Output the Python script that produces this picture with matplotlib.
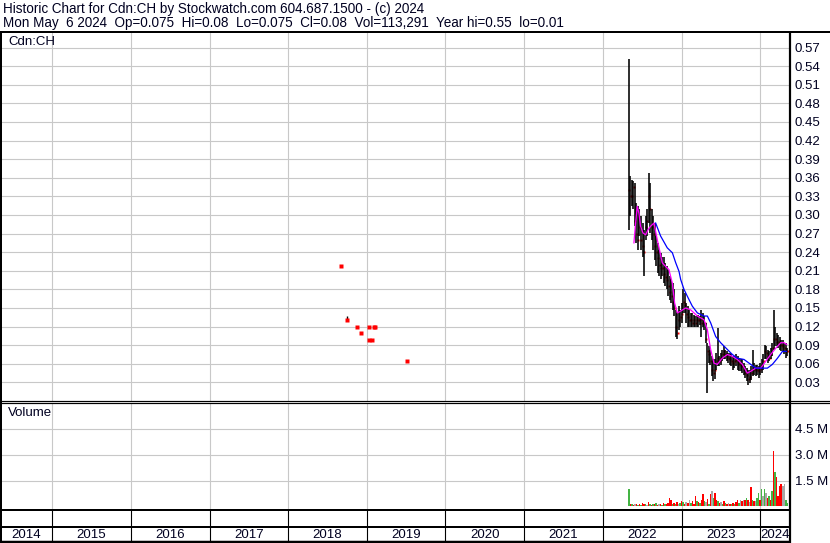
import matplotlib
matplotlib.use('Agg')
import matplotlib.pyplot as plt
import matplotlib.dates as mdates
import numpy as np
import pandas as pd

plt.rcParams['font.family'] = ['Liberation Sans', 'DejaVu Sans']

# ---------------- data ----------------
header_1 = "Historic Chart for Cdn:CH by Stockwatch.com 604.687.1500 - (c) 2024"
header_2 = "Mon May  6 2024  Op=0.075  Hi=0.08  Lo=0.075  Cl=0.08  Vol=113,291  Year hi=0.55  lo=0.01"
symbol = "Cdn:CH"

years = list(range(2014, 2025))
price_ticks = [0.03, 0.06, 0.09, 0.12, 0.15, 0.18, 0.21, 0.24, 0.27, 0.30,
               0.33, 0.36, 0.39, 0.42, 0.45, 0.48, 0.51, 0.54, 0.57]
vol_ticks = [1.5e6, 3.0e6, 4.5e6]
vol_tick_labels = ["1.5 M", "3.0 M", "4.5 M"]

# early sparse trades (2018-2019)
early_dates = ["2018-09-01", "2018-10-01", "2018-11-14", "2018-12-03", "2019-01-07",
               "2019-01-10", "2019-01-23", "2019-01-31", "2019-02-04", "2019-07-05"]
early_high = [0.217, 0.137, 0.120, 0.109, 0.098, 0.120, 0.098, 0.120, 0.120, 0.065]
early_low = [0.217, 0.130, 0.120, 0.109, 0.098, 0.120, 0.098, 0.120, 0.120, 0.065]
early_close = [0.217, 0.130, 0.120, 0.109, 0.098, 0.120, 0.098, 0.120, 0.120, 0.065]
early_vol = [0.03e6, 0.05e6, 0.03e6, 0.02e6, 0.04e6, 0.03e6, 0.02e6, 0.03e6, 0.02e6, 0.03e6]

# weekly bars from 2022-05-02
week_start = "2022-05-02"
high = [0.551, 0.363, 0.357, 0.354, 0.352, 0.320, 0.314, 0.309, 0.298, 0.287,
        0.276, 0.298, 0.309, 0.367, 0.352, 0.309, 0.298, 0.287, 0.266, 0.255,
        0.244, 0.239, 0.233, 0.233, 0.223, 0.217, 0.212, 0.201, 0.196, 0.190,
        0.180, 0.147, 0.142, 0.153, 0.147, 0.158, 0.180, 0.174, 0.158, 0.153,
        0.147, 0.142, 0.142, 0.139, 0.137, 0.137, 0.139, 0.137, 0.147, 0.142,
        0.137, 0.126, 0.094, 0.088, 0.083, 0.072, 0.067, 0.067, 0.077, 0.118,
        0.072, 0.077, 0.083, 0.088, 0.083, 0.080, 0.077, 0.077, 0.075, 0.072,
        0.072, 0.075, 0.072, 0.069, 0.067, 0.067, 0.061, 0.056, 0.053, 0.050,
        0.050, 0.056, 0.083, 0.061, 0.058, 0.058, 0.056, 0.061, 0.067, 0.075,
        0.091, 0.088, 0.083, 0.080, 0.085, 0.094, 0.147, 0.120, 0.110, 0.107,
        0.104, 0.099, 0.099, 0.094, 0.094, 0.085]
low = [0.276, 0.298, 0.314, 0.310, 0.282, 0.255, 0.244, 0.266, 0.244, 0.233,
       0.201, 0.260, 0.266, 0.287, 0.271, 0.260, 0.244, 0.228, 0.217, 0.206,
       0.201, 0.196, 0.201, 0.190, 0.185, 0.180, 0.169, 0.163, 0.158, 0.147,
       0.137, 0.104, 0.100, 0.115, 0.120, 0.126, 0.142, 0.142, 0.126, 0.120,
       0.120, 0.120, 0.120, 0.120, 0.120, 0.120, 0.120, 0.123, 0.104, 0.120,
       0.115, 0.094, 0.013, 0.061, 0.058, 0.040, 0.032, 0.035, 0.050, 0.056,
       0.056, 0.058, 0.064, 0.067, 0.067, 0.064, 0.061, 0.058, 0.056, 0.050,
       0.053, 0.056, 0.050, 0.048, 0.048, 0.045, 0.042, 0.037, 0.032, 0.026,
       0.029, 0.034, 0.040, 0.042, 0.040, 0.042, 0.037, 0.042, 0.045, 0.050,
       0.067, 0.067, 0.061, 0.064, 0.067, 0.072, 0.083, 0.088, 0.088, 0.085,
       0.083, 0.080, 0.080, 0.075, 0.069, 0.072]
close = [0.340, 0.330, 0.330, 0.345, 0.290, 0.270, 0.260, 0.280, 0.260, 0.250,
         0.240, 0.280, 0.290, 0.330, 0.310, 0.280, 0.270, 0.250, 0.240, 0.230,
         0.220, 0.215, 0.215, 0.205, 0.200, 0.195, 0.185, 0.175, 0.170, 0.160,
         0.150, 0.120, 0.110, 0.130, 0.135, 0.140, 0.160, 0.155, 0.140, 0.135,
         0.130, 0.130, 0.125, 0.130, 0.125, 0.130, 0.130, 0.130, 0.125, 0.130,
         0.125, 0.100, 0.080, 0.075, 0.065, 0.050, 0.045, 0.050, 0.065, 0.070,
         0.065, 0.070, 0.075, 0.080, 0.075, 0.072, 0.070, 0.068, 0.065, 0.062,
         0.064, 0.066, 0.063, 0.060, 0.058, 0.056, 0.050, 0.045, 0.042, 0.035,
         0.038, 0.045, 0.050, 0.052, 0.050, 0.050, 0.048, 0.052, 0.058, 0.065,
         0.080, 0.078, 0.072, 0.070, 0.075, 0.085, 0.100, 0.100, 0.095, 0.095,
         0.090, 0.090, 0.088, 0.085, 0.080, 0.080]
volume_m = [1.00, 0.15, 0.12, 0.10, 0.15, 0.12, 0.10, 0.15, 0.10, 0.20,
            0.12, 0.15, 0.10, 0.25, 0.15, 0.10, 0.12, 0.15, 0.20, 0.10,
            0.12, 0.15, 0.10, 0.20, 0.12, 0.15, 0.20, 0.50, 0.35, 0.15,
            0.20, 0.12, 0.25, 0.15, 0.20, 0.30, 0.28, 0.15, 0.25, 0.20,
            0.35, 0.20, 0.30, 0.15, 0.60, 0.30, 0.25, 0.20, 0.35, 0.70,
            0.30, 0.25, 0.45, 0.15, 0.70, 0.90, 0.50, 0.80, 0.40, 0.30,
            0.20, 0.25, 0.15, 0.30, 0.20, 0.15, 0.20, 0.15, 0.12, 0.20,
            0.15, 0.25, 0.40, 0.20, 0.40, 0.30, 0.40, 0.35, 0.50, 0.35,
            0.25, 1.12, 0.40, 0.30, 0.30, 0.50, 0.75, 0.40, 1.00, 0.60,
            1.00, 0.80, 0.50, 0.60, 0.40, 0.90, 3.20, 2.00, 1.70, 0.60,
            1.20, 1.30, 1.20, 1.30, 0.40, 0.20]
volume_kind = "grgrkrgrgr" "rgkrgrgrgr" "krgrgrrrrg" "rgrkgrgrkr" "kgrrrgrgrr" \
              "gkrgrkgrrg" "rkgrgrkrgr" "grrgkrkrgr" "krgrkggrgk" "gkrgrgrgrr" \
              "rrkkgg"

# moving averages (week offsets from week_start, price)
ma_fast_week = [3.3, 4.4, 5.5, 6.6, 7.7, 9.3, 11.1, 12.6, 14.4, 16.6, 18.8, 22.1, 24.3,
                26.5, 28.8, 30.3, 32.1, 34.3, 37.6, 40.9, 45.4, 49.8, 52.0, 54.2, 56.4,
                58.6, 61.9, 65.3, 68.6, 71.9, 75.2, 78.5, 80.8, 84.1, 87.4, 90.7, 94.0,
                97.3, 100.7, 102.9, 104.6]
ma_fast = [0.255, 0.287, 0.314, 0.303, 0.282, 0.271, 0.268, 0.276, 0.282, 0.287, 0.260,
           0.223, 0.217, 0.212, 0.190, 0.158, 0.142, 0.145, 0.150, 0.147, 0.137, 0.131,
           0.115, 0.083, 0.061, 0.059, 0.069, 0.075, 0.072, 0.067, 0.059, 0.045, 0.048,
           0.053, 0.053, 0.064, 0.075, 0.085, 0.094, 0.094, 0.091]
ma_slow_week = [17.7, 21.0, 25.4, 28.8, 31.0, 33.2, 34.3, 36.5, 38.7, 42.0, 45.4, 49.8,
                52.0, 54.2, 57.5, 60.8, 65.3, 68.6, 71.9, 76.3, 80.8, 84.1, 87.4, 91.8,
                95.1, 98.5, 101.8, 104.4]
ma_slow = [0.287, 0.266, 0.247, 0.239, 0.223, 0.209, 0.196, 0.180, 0.169, 0.153, 0.142,
           0.137, 0.137, 0.126, 0.104, 0.094, 0.083, 0.075, 0.069, 0.067, 0.059, 0.053,
           0.053, 0.053, 0.059, 0.069, 0.080, 0.080]

# ---------------- layout helpers ----------------
W, H = 830, 543
fig = plt.figure(figsize=(W / 100, H / 100), dpi=100)
fig.patch.set_facecolor('white')
TXT = '#000020'
GRID = '#c8c8c8'


def rect(x0, y0, x1, y1):
    return [x0 / W, 1 - y1 / H, (x1 - x0) / W, (y1 - y0) / H]


x_left = mdates.date2num(pd.Timestamp("2014-05-09"))
x_right = mdates.date2num(pd.Timestamp("2024-05-14"))
year_starts = [mdates.date2num(pd.Timestamp(f"{y}-01-01")) for y in years[1:]]

start = pd.Timestamp(week_start)
wk_dates = mdates.date2num([start + pd.Timedelta(days=7 * i) for i in range(len(high))])
fast_dates = mdates.date2num([start + pd.Timedelta(days=7 * w) for w in ma_fast_week])
slow_dates = mdates.date2num([start + pd.Timedelta(days=7 * w) for w in ma_slow_week])
e_dates = mdates.date2num(pd.to_datetime(early_dates))

# ---------------- price panel ----------------
ax = fig.add_axes(rect(1, 32, 789, 401))
ax.set_xlim(x_left, x_right)
ax.set_ylim(0, 0.595)
for s in ax.spines.values():
    s.set_visible(False)
for yv in price_ticks:
    ax.axhline(yv, color=GRID, lw=0.8, zorder=0)
for xv in year_starts:
    ax.axvline(xv, color=GRID, lw=0.8, zorder=0)

ax.plot(wk_dates + 2, close, ls='none', marker='s', ms=2.0, color='red', mec='none', zorder=2)
ax.vlines(wk_dates, low, high, colors='black', lw=1.15, zorder=3)
ax.plot(fast_dates, ma_fast, color='#ff00ff', lw=0.9, zorder=4)
ax.plot(slow_dates, ma_slow, color='#0000ff', lw=0.9, zorder=4)

ax.vlines(e_dates, early_low, early_high, colors='black', lw=1.0, zorder=3)
ax.plot(e_dates + 2, early_close, ls='none', marker='s', ms=2.2, color='red', mec='none', zorder=4)

ax.yaxis.tick_right()
ax.set_yticks(price_ticks)
ax.set_yticklabels([f"{v:.2f}" for v in price_ticks])
ax.tick_params(axis='y', length=0, pad=4.3, labelsize=9.5, labelcolor=TXT)
ax.set_xticks([])
ax.text(0.009, 0.99, symbol, transform=ax.transAxes, ha='left', va='top',
        fontsize=9.5, color=TXT)

# ---------------- volume panel ----------------
axv = fig.add_axes(rect(1, 403, 789, 509))
axv.set_xlim(x_left, x_right)
axv.set_ylim(-0.15e6, 6.0e6)
for s in axv.spines.values():
    s.set_visible(False)
for yv in vol_ticks:
    axv.axhline(yv, color=GRID, lw=0.8, zorder=0)
for xv in year_starts:
    axv.axvline(xv, color=GRID, lw=0.8, zorder=0)
cmap = {'g': '#44b444', 'r': '#ff0000', 'k': '#a8a8a8'}
vols = [v * 1e6 for v in volume_m]
axv.bar(wk_dates, vols, width=7, color=[cmap[k] for k in volume_kind], zorder=2)
axv.bar(e_dates, early_vol, width=6, color='#ff0000', zorder=2)
axv.yaxis.tick_right()
axv.set_yticks(vol_ticks)
axv.set_yticklabels(vol_tick_labels)
axv.tick_params(axis='y', length=0, pad=4.3, labelsize=9.5, labelcolor=TXT)
axv.set_xticks([])
axv.text(0.009, 0.96, "Volume", transform=axv.transAxes, ha='left', va='top',
         fontsize=9.5, color=TXT)

# ---------------- blank strip and year labels ----------------
axs = fig.add_axes(rect(1, 509, 789, 527))
axs.set_xlim(x_left, x_right)
axs.set_axis_off()
for xv in year_starts:
    axs.axvline(xv, color='black', lw=0.8)

axy = fig.add_axes(rect(1, 527, 789, 541))
axy.set_xlim(x_left, x_right)
axy.set_ylim(0, 1)
axy.set_axis_off()
for xv in year_starts:
    axy.axvline(xv, color='black', lw=0.8)
for y in years:
    a = max(mdates.date2num(pd.Timestamp(f"{y}-01-01")), x_left)
    b = min(mdates.date2num(pd.Timestamp(f"{y + 1}-01-01")), x_right)
    axy.text((a + b) / 2, 0.45, str(y), ha='center', va='center', fontsize=9.5, color=TXT)

# ---------------- header and frame ----------------
ov = fig.add_axes([0, 0, 1, 1], zorder=10)
ov.set_xlim(0, W)
ov.set_ylim(H, 0)
ov.set_axis_off()
ov.patch.set_alpha(0)
ov.text(3, 13, header_1, ha='left', va='baseline', fontsize=9.75, color=TXT)
ov.text(3, 26.5, header_2, ha='left', va='baseline', fontsize=9.75, color=TXT)
k = 0.72
ov.plot([0, W], [31.5, 31.5], color='black', lw=2 * k, solid_capstyle='butt')
ov.plot([0, W], [401, 401], color='black', lw=1.2 * k, solid_capstyle='butt')
ov.plot([0, W], [403, 403], color='black', lw=1.2 * k, solid_capstyle='butt')
ov.plot([0, 789], [509.5, 509.5], color='black', lw=2 * k, solid_capstyle='butt')
ov.plot([0, 789], [526.5, 526.5], color='black', lw=2 * k, solid_capstyle='butt')
ov.plot([0, 789], [541.5, 541.5], color='black', lw=2.5 * k, solid_capstyle='butt')
ov.plot([1, 1], [31, H], color='black', lw=2 * k, solid_capstyle='butt')
ov.plot([789.5, 789.5], [31, H], color='black', lw=2.2 * k, solid_capstyle='butt')

fig.savefig('out.png', dpi=100, facecolor='white')
